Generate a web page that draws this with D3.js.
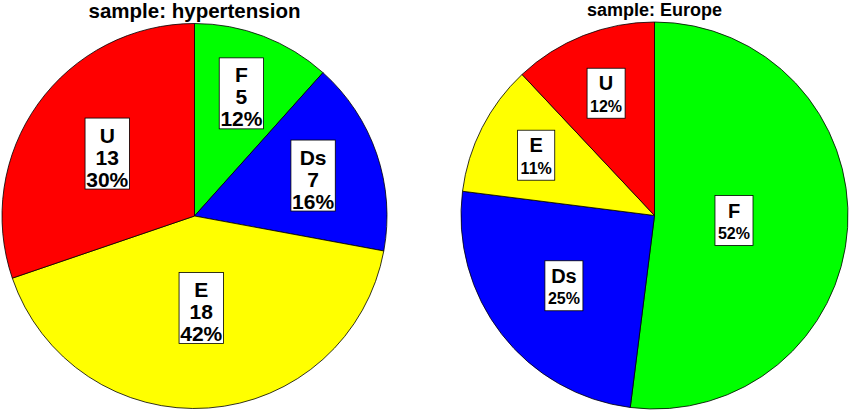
<!DOCTYPE html>
<html>
<head>
<meta charset="utf-8">
<script src="https://cdn.jsdelivr.net/npm/d3@7"></script>
<style>
  html, body { margin: 0; padding: 0; background: #fff; }
  svg { display: block; font-family: "Liberation Sans", Arial, Helvetica, sans-serif; }
</style>
</head>
<body>
<div id="chart"></div>
<script>
const categories = ["F", "Ds", "E", "U"]
const hypertensionCounts = [5, 7, 18, 13]
const europePercents = [52, 25, 11, 12]

const width = 851
const height = 412

const color = d3.scaleOrdinal()
  .domain(categories)
  .range(["#00ff00", "#0000ff", "#ffff00", "#ff0000"])

const svg = d3.select("#chart")
  .append("svg")
  .attr("width", width)
  .attr("height", height)
  .attr("viewBox", [0, 0, width, height])

const panels = [
  {
    title: "sample: hypertension",
    titleSize: 20.5,
    titleY: 17.5,
    values: hypertensionCounts,
    showCounts: true,
    cx: 194.5, cy: 216, r: 192.5
  },
  {
    title: "sample: Europe",
    titleSize: 18,
    titleY: 15.5,
    values: europePercents,
    showCounts: false,
    cx: 654.5, cy: 215.5, r: 193.5
  }
]

panels.forEach(drawPanel)

function drawPanel(p) {
  const total = d3.sum(p.values)
  const rows = categories.map((c, i) => ({ name: c, value: p.values[i] }))

  const pie = d3.pie()
    .sort(null)
    .value(d => d.value)

  const arc = d3.arc()
    .innerRadius(0)
    .outerRadius(p.r)

  const g = svg.append("g")
    .attr("transform", `translate(${p.cx},${p.cy})`)

  const arcs = pie(rows)

  g.selectAll("path")
    .data(arcs)
    .join("path")
    .attr("d", arc)
    .attr("fill", d => color(d.data.name))
    .attr("stroke", "#000")
    .attr("stroke-width", 0.8)
    .attr("stroke-linejoin", "round")

  // Title
  svg.append("text")
    .attr("x", p.cx)
    .attr("y", p.titleY)
    .attr("text-anchor", "middle")
    .style("font-size", p.titleSize + "px")
    .style("font-weight", "bold")
    .text(p.title)

  // Labels: smaller slices push their box further out
  arcs.forEach(d => {
    const frac = d.data.value / total
    const mid = (d.startAngle + d.endAngle) / 2
    const rl = p.r * (0.76 - 0.67 * frac)
    const lx = rl * Math.sin(mid)
    const ly = -rl * Math.cos(mid)

    const label = g.append("g")
    const text = label.append("text")
      .attr("text-anchor", "middle")
      .attr("fill", "#000")

    const pct = Math.round(frac * 100) + "%"
    let lines, top, bottom, padX
    if (p.showCounts) {
      lines = [
        { t: d.data.name, size: 21, dy: 0 },
        { t: String(d.data.value), size: 21, dy: 22 },
        { t: pct, size: 21, dy: 44 }
      ]
      top = -24.5
      bottom = 46.5
      padX = 1
    } else {
      lines = [
        { t: d.data.name, size: 20, dy: 0 },
        { t: pct, size: 16, dy: 21.5 }
      ]
      top = -22
      bottom = 28
      padX = 3
    }

    lines.forEach(l => {
      text.append("tspan")
        .attr("x", 0)
        .attr("y", l.dy)
        .style("font-size", l.size + "px")
        .style("font-weight", "bold")
        .text(l.t)
    })

    const bb = text.node().getBBox()
    const bw = bb.width + padX * 2
    const bx = -bw / 2
    const bh = bottom - top

    label.insert("rect", "text")
      .attr("x", bx)
      .attr("y", top)
      .attr("width", bw)
      .attr("height", bh)
      .attr("fill", "#fff")
      .attr("stroke", "#000")
      .attr("stroke-width", 0.8)

    label.attr("transform", `translate(${lx},${ly - (top + bh / 2)})`)
  })
}
</script>
</body>
</html>
